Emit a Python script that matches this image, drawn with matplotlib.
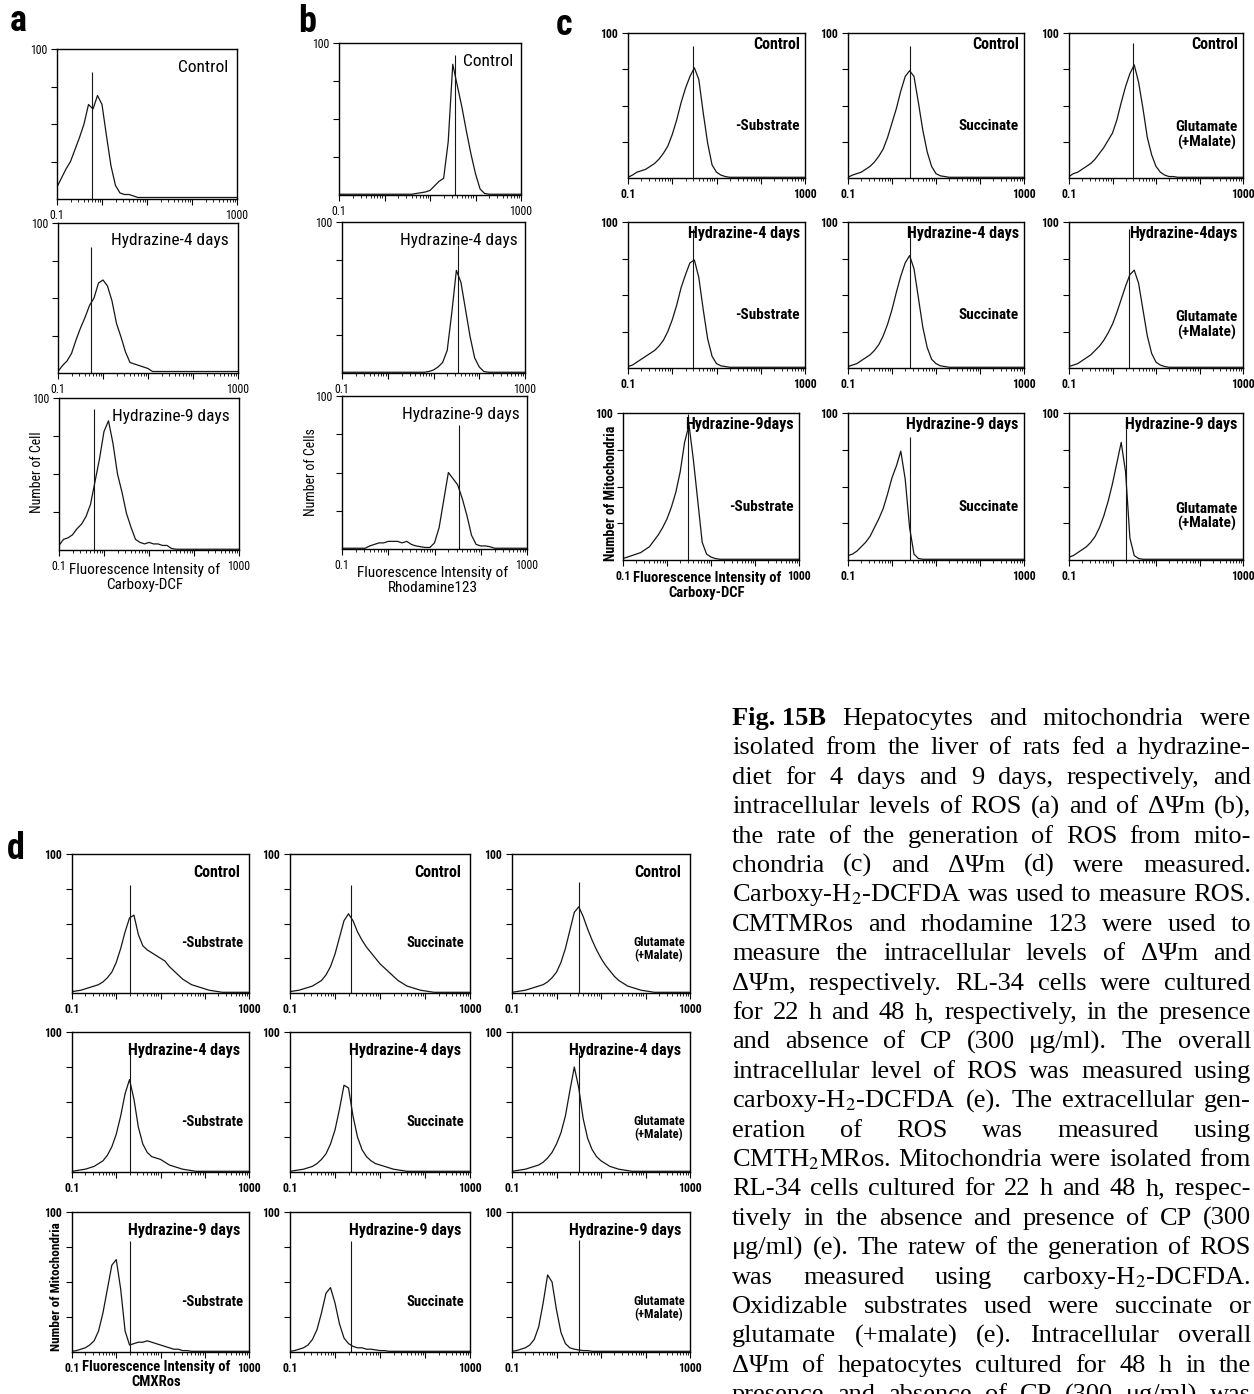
import numpy as np
import matplotlib.pyplot as plt
from matplotlib.ticker import LogLocator, NullFormatter, FixedLocator, FixedFormatter

W, H = 1254, 1394
fig = plt.figure(figsize=(W / 100, H / 100), dpi=100)
plt.rcParams['mathtext.fontset'] = 'stix'

NARROW = ['Roboto Condensed', 'Archivo Narrow', 'Liberation Sans']

# fluorescence channels, 0.1-decade bins from 0.1 to 1000
channels = 10 ** np.linspace(-1, 3, 41)

# --- panel a: carboxy-DCF in hepatocytes ---
a_control = [8, 14, 20, 25, 33, 41, 50, 63, 60, 69, 63, 42, 22, 9, 4, 3, 3, 2, 1, 1,
             1, 1, 1, 1, 1, 1, 1, 1, 1, 1, 1, 1, 1, 1, 1, 1, 1, 1, 1, 1, 1]
a_hyd4 = [1, 5, 8, 13, 22, 30, 37, 45, 50, 60, 62, 58, 48, 33, 24, 14, 7, 6, 5, 4,
          3, 1, 1, 1, 1, 1, 1, 1, 1, 1, 1, 1, 1, 1, 1, 1, 1, 1, 1, 1, 1]
a_hyd9 = [3, 7, 8, 10, 14, 17, 22, 30, 45, 60, 78, 85, 70, 50, 38, 24, 15, 7, 5, 4,
          5, 4, 4, 3, 3, 1, 0.5, 0.5, 0.5, 0.5, 0.5, 0.5, 0.5, 0.5, 0.5, 0.5, 0.5, 0.5, 0.5, 0.5, 0.5]
a_titles = ['Control', 'Hydrazine-4 days', 'Hydrazine-9 days']
a_marker = [0.59, 0.55, 0.59]
a_marker_top = [85, 84, 93]

# --- panel b: rhodamine 123 in hepatocytes ---
b_control = [0.5, 0.5, 0.5, 0.5, 0.5, 0.5, 0.5, 0.5, 0.5, 0.5, 0.5, 0.5, 0.5, 0.5, 0.5, 0.5, 0.5,
             1, 1.5, 2, 3, 6, 9, 11, 35, 86, 72, 58, 42, 27, 14, 4, 1,
             0.5, 0.5, 0.5, 0.5, 0.5, 0.5, 0.5, 0.5]
b_hyd4 = [0.5, 0.5, 0.5, 0.5, 0.5, 0.5, 0.5, 0.5, 0.5, 0.5, 0.5, 0.5, 0.5, 0.5, 0.5, 0.5, 0.5, 0.5, 0.5,
          1, 2, 4, 7, 15, 40, 68, 60, 42, 24, 10, 4, 1,
          0.5, 0.5, 0.5, 0.5, 0.5, 0.5, 0.5, 0.5, 0.5]
b_hyd9 = [0.5, 0.5, 0.5, 0.5, 0.5, 0.5,
          2, 3, 4, 4, 5, 5, 5, 4, 5, 3, 2, 1.5, 1, 1, 4, 14, 32, 50, 46, 42, 33, 22, 9, 3, 2, 2, 1.5,
          0.5, 0.5, 0.5, 0.5, 0.5, 0.5, 0.5, 0.5]
b_titles = ['Control', 'Hydrazine-4 days', 'Hydrazine-9 days']
b_marker = [35.5, 35, 34]
b_marker_top = [92, 85, 81]

# --- panel c: ROS generation from mitochondria (carboxy-DCF) ---
c_ctrl_sub = [0.5, 2, 4, 5, 6, 8, 10, 13, 17, 22, 30, 40, 52, 62, 70, 76, 68, 45, 24, 9,
              4, 2, 1, 0.5, 0.5, 0.5, 0.5, 0.5, 0.5, 0.5, 0.5, 0.5, 0.5, 0.5, 0.5, 0.5, 0.5, 0.5, 0.5, 0.5, 0.5]
c_ctrl_succ = [0.5, 2, 3, 4, 6, 8, 11, 15, 20, 28, 38, 48, 60, 70, 74, 70, 52, 33, 18, 8,
               3, 1.5, 1, 0.5, 0.5, 0.5, 0.5, 0.5, 0.5, 0.5, 0.5, 0.5, 0.5, 0.5, 0.5, 0.5, 0.5, 0.5, 0.5, 0.5, 0.5]
c_ctrl_glu = [1, 3, 4, 6, 8, 10, 13, 17, 21, 26, 31, 40, 52, 63, 72, 78, 66, 48, 28, 16,
              8, 4, 2, 1, 1, 0.5, 0.5, 0.5, 0.5, 0.5, 0.5, 0.5, 0.5, 0.5, 0.5, 0.5, 0.5, 0.5, 0.5, 0.5, 0.5]
c_h4_sub = [1, 2, 4, 6, 8, 10, 12, 15, 19, 25, 33, 43, 55, 64, 72, 74, 62, 40, 20, 8,
            3, 1.5, 1, 0.5, 0.5, 0.5, 0.5, 0.5, 0.5, 0.5, 0.5, 0.5, 0.5, 0.5, 0.5, 0.5, 0.5, 0.5, 0.5, 0.5, 0.5]
c_h4_succ = [1, 2, 3, 5, 7, 9, 12, 16, 22, 30, 40, 52, 63, 72, 77, 68, 48, 28, 14, 6,
             3, 1.5, 1, 0.5, 0.5, 0.5, 0.5, 0.5, 0.5, 0.5, 0.5, 0.5, 0.5, 0.5, 0.5, 0.5, 0.5, 0.5, 0.5, 0.5, 0.5]
c_h4_glu = [1, 2, 3, 5, 7, 9, 12, 15, 19, 24, 30, 38, 47, 56, 64, 67, 58, 40, 22, 10,
            4, 2, 1, 0.5, 0.5, 0.5, 0.5, 0.5, 0.5, 0.5, 0.5, 0.5, 0.5, 0.5, 0.5, 0.5, 0.5, 0.5, 0.5, 0.5, 0.5]
c_h9_sub = [1, 2, 3, 4, 5, 7, 9, 13, 17, 22, 28, 36, 46, 60, 80, 92, 68, 40, 12, 4,
            2, 1, 0.5, 0.5, 0.5, 0.5, 0.5, 0.5, 0.5, 0.5, 0.5, 0.5, 0.5, 0.5, 0.5, 0.5, 0.5, 0.5, 0.5, 0.5, 0.5]
c_h9_succ = [3, 4, 6, 9, 12, 16, 22, 28, 35, 45, 56, 64, 74, 55, 22, 4, 1, 0.5, 0.5, 0.5,
             0.5, 0.5, 0.5, 0.5, 0.5, 0.5, 0.5, 0.5, 0.5, 0.5, 0.5, 0.5, 0.5, 0.5, 0.5, 0.5, 0.5, 0.5, 0.5, 0.5, 0.5]
c_h9_glu = [2, 3, 5, 7, 9, 12, 16, 22, 30, 40, 52, 66, 80, 60, 15, 3, 1, 0.5, 0.5, 0.5,
            0.5, 0.5, 0.5, 0.5, 0.5, 0.5, 0.5, 0.5, 0.5, 0.5, 0.5, 0.5, 0.5, 0.5, 0.5, 0.5, 0.5, 0.5, 0.5, 0.5, 0.5]
c_titles = [['Control', 'Control', 'Control'],
            ['Hydrazine-4 days', 'Hydrazine-4 days', 'Hydrazine-4days'],
            ['Hydrazine-9days', 'Hydrazine-9 days', 'Hydrazine-9 days']]
c_subs = ['-Substrate', 'Succinate', 'Glutamate\n(+Malate)']
c_marker = [[2.95, 2.5, 2.95], [3.0, 2.6, 2.35], [3.0, 2.6, 2.05]]
c_marker_top = [[91, 91, 93], [95, 97, 95], [99, 84, 95]]

# --- panel d: membrane potential of mitochondria (CMXRos) ---
d_ctrl_sub = [1, 1.5, 2, 3, 4, 5, 6, 8, 11, 15, 22, 32, 44, 54, 56, 42, 34, 31, 29, 27,
              25, 23, 19, 16, 13, 10, 8, 6, 5, 4, 3, 2, 1.5, 1, 0.5, 0.5, 0.5, 0.5, 0.5, 0.5, 0.5]
d_ctrl_succ = [1, 1.5, 2, 3, 4, 5, 7, 9, 13, 19, 28, 40, 52, 57, 52, 44, 38, 33, 29, 25,
               21, 18, 15, 12, 9, 7, 5, 4, 3, 2, 1.5, 1, 0.5, 0.5, 0.5, 0.5, 0.5, 0.5, 0.5, 0.5, 0.5]
d_ctrl_glu = [0.5, 1, 1.5, 2, 3, 4, 5, 6, 8, 11, 15, 22, 32, 45, 58, 62, 55, 46, 38, 31,
              25, 20, 16, 12, 9, 7, 5, 4, 3, 2, 1.5, 1, 0.5, 0.5, 0.5, 0.5, 0.5, 0.5, 0.5, 0.5, 0.5]
d_h4_sub = [0.5, 1, 1.5, 2, 3, 4, 6, 8, 12, 18, 27, 40, 56, 66, 52, 32, 20, 14, 11, 10,
            9, 7, 5, 4, 3, 2, 1.5, 1, 0.5, 0.5, 0.5, 0.5, 0.5, 0.5, 0.5, 0.5, 0.5, 0.5, 0.5, 0.5, 0.5]
d_h4_succ = [0.5, 1, 1.5, 2, 3, 4, 6, 9, 13, 20, 30, 45, 62, 60, 40, 25, 16, 11, 8, 6,
             5, 4, 3, 2, 1.5, 1, 0.5, 0.5, 0.5, 0.5, 0.5, 0.5, 0.5, 0.5, 0.5, 0.5, 0.5, 0.5, 0.5, 0.5, 0.5]
d_h4_glu = [0.5, 1, 1.5, 2, 3, 4, 5, 7, 10, 14, 20, 28, 40, 58, 75, 60, 38, 24, 16, 11,
            8, 6, 4, 3, 2, 1.5, 1, 0.5, 0.5, 0.5, 0.5, 0.5, 0.5, 0.5, 0.5, 0.5, 0.5, 0.5, 0.5, 0.5, 0.5]
d_h9_sub = [0.5, 1, 2, 3, 5, 8, 15, 28, 45, 62, 66, 45, 15, 5, 6, 7, 7, 8, 7, 6,
            5, 4, 3, 2, 2, 1, 1, 0.5, 0.5, 0.5, 0.5, 0.5, 0.5, 0.5, 0.5, 0.5, 0.5, 0.5, 0.5, 0.5, 0.5]
d_h9_succ = [0.5, 1, 2, 3, 5, 9, 16, 28, 42, 46, 35, 20, 10, 6, 4, 3, 3, 2, 2, 1.5,
             1, 1, 0.5, 0.5, 0.5, 0.5, 0.5, 0.5, 0.5, 0.5, 0.5, 0.5, 0.5, 0.5, 0.5, 0.5, 0.5, 0.5, 0.5, 0.5, 0.5]
d_h9_glu = [0.5, 1, 2, 3, 5, 9, 18, 35, 55, 50, 30, 14, 6, 3, 2, 1.5, 1, 1, 0.5, 0.5,
            0.5, 0.5, 0.5, 0.5, 0.5, 0.5, 0.5, 0.5, 0.5, 0.5, 0.5, 0.5, 0.5, 0.5, 0.5, 0.5, 0.5, 0.5, 0.5, 0.5, 0.5]
d_titles = ['Control', 'Hydrazine-4 days', 'Hydrazine-9 days']
d_marker = [[2.0, 2.3, 3.2], [2.0, 2.3, 3.2], [2.0, 2.3, 3.2]]
d_marker_top = [[78, 78, 80], [86, 86, 86], [79, 79, 80]]

caption_lines = [
    'Hepatocytes and mitochondria were',
    'isolated from the liver of rats fed a hydrazine-',
    'diet for 4 days and 9 days, respectively, and',
    'intracellular levels of ROS (a) and of ΔΨm (b),',
    'the rate of the generation of ROS from mito-',
    'chondria (c) and ΔΨm (d) were measured.',
    'Carboxy-H$_2$-DCFDA was used to measure ROS.',
    'CMTMRos and rhodamine 123 were used to',
    'measure the intracellular levels of ΔΨm and',
    'ΔΨm, respectively. RL-34 cells were cultured',
    'for 22 h and 48 h, respectively, in the presence',
    'and absence of CP (300 μg/ml). The overall',
    'intracellular level of ROS was measured using',
    'carboxy-H$_2$-DCFDA (e). The extracellular gen-',
    'eration of ROS was measured using',
    'CMTH$_2$MRos. Mitochondria were isolated from',
    'RL-34 cells cultured for 22 h and 48 h, respec-',
    'tively in the absence and presence of CP (300',
    'μg/ml) (e). The ratew of the generation of ROS',
    'was measured using carboxy-H$_2$-DCFDA.',
    'Oxidizable substrates used were succinate or',
    'glutamate (+malate) (e). Intracellular overall',
    'ΔΨm of hepatocytes cultured for 48 h in the',
    'presence and absence of CP (300 μg/ml) was',
]


def px(x, y):
    return x / W, 1 - y / H


def hist_panel(box, counts, marker, marker_top, bold):
    x0, y0, x1, y1 = box
    ax = fig.add_axes([x0 / W, 1 - y1 / H, (x1 - x0) / W, (y1 - y0) / H])
    ax.plot(channels, counts, color='#151515', lw=0.9)
    ax.vlines(marker, 0, marker_top, color='#151515', lw=0.8)
    ax.set_xscale('log')
    ax.set_xlim(0.1, 1000)
    ax.set_ylim(0, 100)
    weight = 'bold' if bold else 'normal'
    ax.xaxis.set_major_locator(FixedLocator([0.1, 1, 10, 100, 1000]))
    ax.xaxis.set_major_formatter(FixedFormatter(['0.1', '', '', '', '1000']))
    ax.xaxis.set_minor_locator(LogLocator(base=10, subs=np.arange(2, 10)))
    ax.xaxis.set_minor_formatter(NullFormatter())
    ax.yaxis.set_major_locator(FixedLocator([25, 50, 75, 100]))
    ax.yaxis.set_major_formatter(FixedFormatter(['', '', '', '100']))
    ax.tick_params(axis='both', which='major', length=4, width=0.8, labelsize=8.5, pad=3)
    ax.tick_params(axis='x', which='minor', length=2.5, width=0.6)
    for lab in ax.get_xticklabels() + ax.get_yticklabels():
        lab.set_family(NARROW)
        lab.set_fontweight(weight)
    for s in ax.spines.values():
        s.set_linewidth(1.0)
    return ax


# panel a
a_boxes = [(57, 49, 237, 199), (58, 223, 238, 373), (59, 398, 239, 550)]
for box, counts, m, mt, title in zip(a_boxes, [a_control, a_hyd4, a_hyd9], a_marker, a_marker_top, a_titles):
    ax = hist_panel(box, counts, m, mt, False)
    ax.text(0.95, 0.88, title, transform=ax.transAxes, ha='right', va='center',
            fontsize=12.5, family=NARROW)

# panel b
b_boxes = [(339, 43, 521, 195), (342, 222, 525, 373), (342, 396, 527, 549)]
for box, counts, m, mt, title in zip(b_boxes, [b_control, b_hyd4, b_hyd9], b_marker, b_marker_top, b_titles):
    ax = hist_panel(box, counts, m, mt, False)
    ax.text(0.96, 0.88, title, transform=ax.transAxes, ha='right', va='center',
            fontsize=12.5, family=NARROW)

# panel c
c_counts = [[c_ctrl_sub, c_ctrl_succ, c_ctrl_glu],
            [c_h4_sub, c_h4_succ, c_h4_glu],
            [c_h9_sub, c_h9_succ, c_h9_glu]]
c_cols = [(628, 805), (848, 1024), (1069, 1243)]
c_rows_y = [(33, 178), (222, 368), (413, 560)]
for r in range(3):
    for c in range(3):
        xa, xb = c_cols[c]
        ya, yb = c_rows_y[r]
        if r == 2 and c == 0:
            xa, xb = 623, 799
        ax = hist_panel((xa, ya, xb, yb), c_counts[r][c], c_marker[r][c], c_marker_top[r][c], True)
        ax.text(0.97, 0.92, c_titles[r][c], transform=ax.transAxes, ha='right', va='center',
                fontsize=11.5, fontweight='bold', family=NARROW)
        ax.text(0.97, 0.36 if c < 2 else 0.295, c_subs[c], transform=ax.transAxes,
                ha='right', va='center', multialignment='center', fontsize=11,
                fontweight='bold', family=NARROW, linespacing=1.05)

# panel d
d_counts = [[d_ctrl_sub, d_ctrl_succ, d_ctrl_glu],
            [d_h4_sub, d_h4_succ, d_h4_glu],
            [d_h9_sub, d_h9_succ, d_h9_glu]]
d_cols = [(72, 249), (290, 470), (512, 690)]
d_rows_y = [(854, 993), (1032, 1172), (1212, 1352)]
for r in range(3):
    for c in range(3):
        xa, xb = d_cols[c]
        ya, yb = d_rows_y[r]
        ax = hist_panel((xa, ya, xb, yb), d_counts[r][c], d_marker[r][c], d_marker_top[r][c], True)
        ax.text(0.95, 0.87, d_titles[r], transform=ax.transAxes, ha='right', va='center',
                fontsize=11.5, fontweight='bold', family=NARROW)
        ax.text(0.97, 0.36 if c < 2 else 0.315, c_subs[c], transform=ax.transAxes,
                ha='right', va='center', multialignment='center',
                fontsize=10.5 if c < 2 else 9, fontweight='bold', family=NARROW,
                linespacing=1.0)

# panel letters
for letter, (x, y) in zip('abcd', [(18, 21), (307, 22), (564, 25), (16, 849)]):
    fig.text(*px(x, y), letter, ha='center', va='center', fontsize=26,
             fontweight='bold', family=NARROW)

# axis labels (drawn only next to the bottom-left plots)
for txt, (x, y), bold, fs in [('Number of Cell', (37, 472), False, 10),
                              ('Number of Cells', (311, 472), False, 10),
                              ('Number of Mitochondria', (611, 493), True, 10),
                              ('Number of Mitochondria', (56, 1287), True, 9.5)]:
    fig.text(*px(x, y), txt, rotation=90, ha='center', va='center', fontsize=fs,
             fontweight='bold' if bold else 'normal', family=NARROW)

for l1, l2, (x, y), bold in [('Fluorescence Intensity of', 'Carboxy-DCF', (145, 570), False),
                             ('Fluorescence Intensity of', 'Rhodamine123', (433, 573), False),
                             ('Fluorescence Intensity of', 'Carboxy-DCF', (707, 578), True),
                             ('Fluorescence Intensity of', 'CMXRos', (156, 1367), True)]:
    fs = 10.5 if bold else 11
    fig.text(*px(x, y), l1, ha='center', va='center', fontsize=fs,
             fontweight='bold' if bold else 'normal', family=NARROW)
    fig.text(*px(x, y + 15), l2, ha='center', va='center', fontsize=fs,
             fontweight='bold' if bold else 'normal', family=NARROW)

# justified caption
cap_left, cap_right = 732, 1251
base0, step = 725, 29.4
fig.canvas.draw()
renderer = fig.canvas.get_renderer()
for i, line in enumerate(caption_lines):
    y = base0 + i * step
    texts = []
    if i == 0:
        texts.append(fig.text(0, 0, 'Fig. 15B', fontsize=19, fontweight='bold',
                              family='Liberation Serif', va='baseline'))
    for w in line.split(' '):
        texts.append(fig.text(0, 0, w, fontsize=19, family='Liberation Serif', va='baseline'))
    widths = [t.get_window_extent(renderer).width for t in texts]
    gap = (cap_right - cap_left - sum(widths)) / (len(texts) - 1)
    x = cap_left
    for t, wd in zip(texts, widths):
        t.set_position(px(x, y))
        x += wd + gap

fig.savefig('out.png', dpi=100)
